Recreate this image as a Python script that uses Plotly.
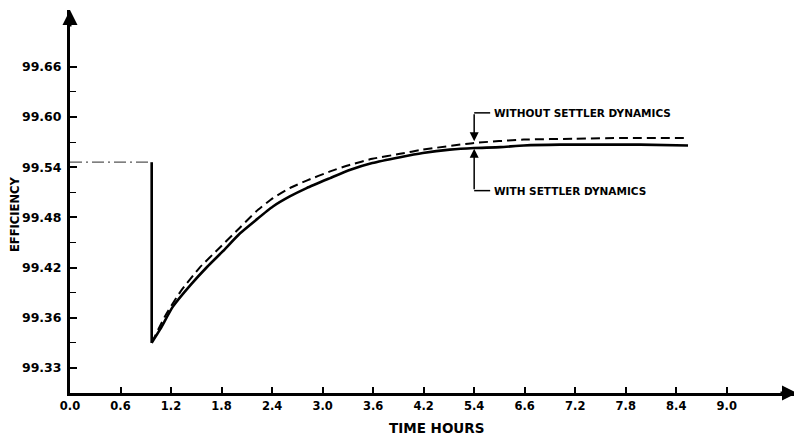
import plotly.graph_objects as go

# Data (nominal axis units: hours / efficiency)
pre_x = [0.0, 0.97]
pre_y = [99.546, 99.546]

drop_x = [0.97, 0.97]
drop_y = [99.546, 99.330]

with_x = [0.97, 1.07, 1.22, 1.43, 1.63, 1.81, 2.02, 2.21, 2.41, 2.61, 2.81, 3.09,
          3.33, 3.59, 3.92, 4.19, 4.51, 4.80, 5.11, 5.39, 5.82, 6.29, 6.77, 7.34]
with_y = [99.330, 99.346, 99.373, 99.399, 99.421, 99.439, 99.461, 99.477, 99.493,
          99.505, 99.515, 99.527, 99.537, 99.545, 99.552, 99.557, 99.561, 99.563, 99.564,
          99.566, 99.567, 99.567, 99.567, 99.566]

without_x = [0.97, 1.13, 1.31, 1.54, 1.78, 2.02, 2.21, 2.41, 2.61, 2.81, 3.09, 3.33,
             3.59, 3.92, 4.19, 4.80, 5.39, 6.00, 6.59, 7.32]
without_y = [99.330, 99.362, 99.391, 99.420, 99.444, 99.468, 99.487, 99.503, 99.515,
             99.524, 99.535, 99.543, 99.550, 99.556, 99.561, 99.569, 99.573, 99.574,
             99.575, 99.575]

x_tickvals = [0.0, 0.6, 1.2, 1.8, 2.4, 3.0, 3.6, 4.2, 4.8, 5.4, 6.0, 6.6, 7.2, 7.8]
x_ticktext = ["0.0", "0.6", "1.2", "1.8", "2.4", "3.0", "3.6", "4.2", "5.4", "6.6",
              "7.2", "7.8", "8.4", "9.0"]
y_tickvals = [99.30, 99.36, 99.42, 99.48, 99.54, 99.60, 99.66]
y_ticktext = ["99.33", "99.36", "99.42", "99.48", "99.54", "99.60", "99.66"]

FONT = "DejaVu Sans"

fig = go.Figure()
fig.add_trace(go.Scatter(x=pre_x, y=pre_y, mode="lines",
                         line=dict(color="#555", width=1.3, dash="12px,4px,2px,4px"),
                         showlegend=False, hoverinfo="skip"))
fig.add_trace(go.Scatter(x=drop_x, y=drop_y, mode="lines",
                         line=dict(color="black", width=2.6),
                         showlegend=False, hoverinfo="skip"))
fig.add_trace(go.Scatter(x=without_x, y=without_y, mode="lines",
                         line=dict(color="black", width=2, dash="9px,5px", shape="spline",
                                   smoothing=0.5),
                         showlegend=False))
fig.add_trace(go.Scatter(x=with_x, y=with_y, mode="lines",
                         line=dict(color="black", width=2.6, shape="spline", smoothing=0.5),
                         showlegend=False))

ann_font = dict(family=FONT, size=10.5, color="black", weight="bold")
lead_x, text_x = 4.80, 4.99
y_without, y_with = 99.605, 99.512

fig.add_shape(type="line", x0=lead_x, x1=text_x, y0=y_without, y1=y_without,
              line=dict(color="black", width=1.5))
fig.add_shape(type="line", x0=lead_x, x1=text_x, y0=y_with, y1=y_with,
              line=dict(color="black", width=1.5))
fig.add_annotation(x=lead_x, y=99.571, ax=lead_x, ay=y_without, axref="x", ayref="y",
                   xref="x", yref="y", text="", showarrow=True, arrowhead=2,
                   arrowsize=1.2, arrowwidth=1.5, arrowcolor="black")
fig.add_annotation(x=lead_x, y=99.562, ax=lead_x, ay=y_with, axref="x", ayref="y",
                   xref="x", yref="y", text="", showarrow=True, arrowhead=2,
                   arrowsize=1.2, arrowwidth=1.5, arrowcolor="black")
fig.add_annotation(x=text_x + 0.02, y=y_without, text="WITHOUT SETTLER DYNAMICS",
                   showarrow=False, xanchor="left", yanchor="middle", font=ann_font)
fig.add_annotation(x=text_x + 0.02, y=y_with, text="WITH SETTLER DYNAMICS",
                   showarrow=False, xanchor="left", yanchor="middle", font=ann_font)

# axis arrows
fig.add_annotation(xref="paper", yref="paper", x=1.0, y=0, ax=-18, ay=0, text="",
                   showarrow=True, arrowhead=2, arrowsize=1.0, arrowwidth=3,
                   arrowcolor="black")
fig.add_annotation(xref="paper", yref="paper", x=0, y=1.0, ax=0, ay=18, text="",
                   showarrow=True, arrowhead=2, arrowsize=1.0, arrowwidth=3,
                   arrowcolor="black")

# axis titles
fig.add_annotation(xref="paper", yref="paper", x=(436 - 70) / 727, y=-0.092,
                   text="TIME HOURS", showarrow=False, xanchor="center", yanchor="middle",
                   font=dict(family=FONT, size=13.5, color="black", weight="bold"))
fig.add_annotation(xref="paper", yref="paper", x=-(70 - 15) / 727, y=(393 - 215) / 383,
                   text="EFFICIENCY", showarrow=False, textangle=-90,
                   xanchor="center", yanchor="middle",
                   font=dict(family=FONT, size=11.5, color="black", weight="bold"))

# page body has an 8px margin, so the figure is sized/offset to compensate
fig.update_layout(
    width=794, height=430,
    margin=dict(l=62, r=5, t=2, b=45),
    paper_bgcolor="white", plot_bgcolor="white",
    font=dict(family=FONT, size=11, color="black", weight="bold"),
    showlegend=False,
)
fig.update_xaxes(range=[0, 8.634], tickvals=x_tickvals, ticktext=x_ticktext,
                 showgrid=False, zeroline=False, showline=True, linecolor="black",
                 linewidth=3, ticks="inside", ticklen=6, tickwidth=1.5, tickcolor="black",
                 tickfont=dict(family=FONT, size=11.5, color="black", weight="bold"))
fig.update_yaxes(range=[99.270, 99.728], tickvals=y_tickvals, ticktext=y_ticktext,
                 showgrid=False, zeroline=False, showline=True, linecolor="black",
                 linewidth=3, ticks="inside", ticklen=7, tickwidth=1.5, tickcolor="black",
                 ticklabelstandoff=3,
                 minor=dict(tickvals=[99.33, 99.39, 99.45, 99.51, 99.57, 99.63],
                            ticks="inside", ticklen=6, tickwidth=1.2, tickcolor="black"),
                 tickfont=dict(family=FONT, size=12.5, color="black", weight="bold"))

fig.write_html("out.html")
